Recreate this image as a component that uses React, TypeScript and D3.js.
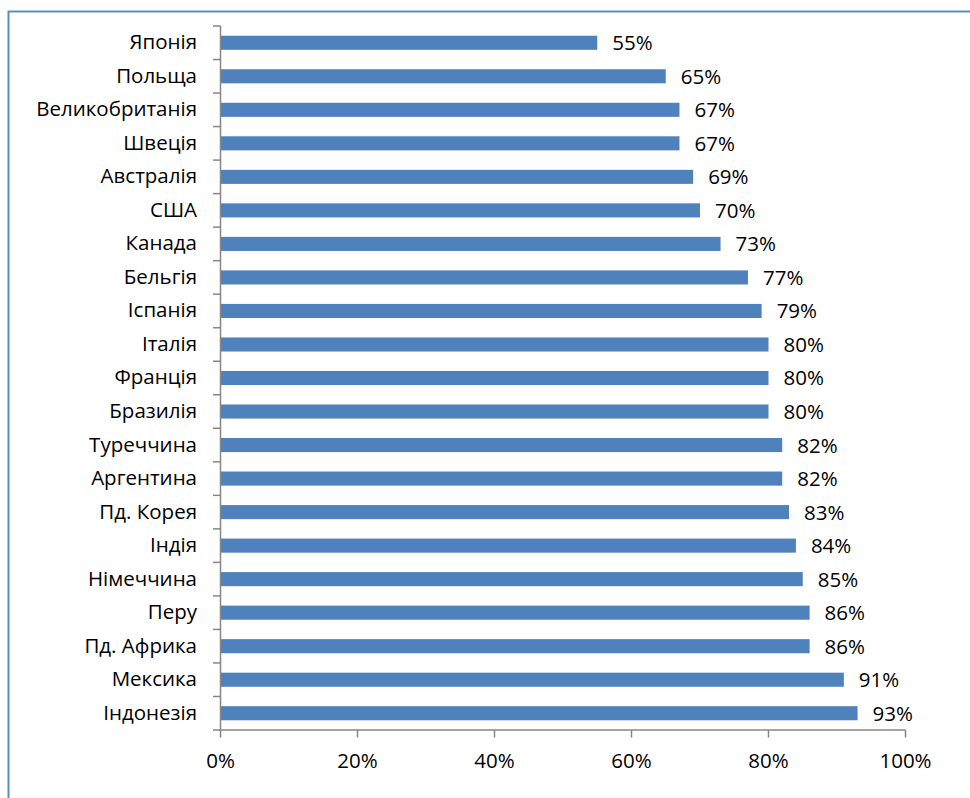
import { useEffect, useRef } from 'react'
import * as d3 from 'd3'

const countries = [
  'Японія', 'Польща', 'Великобританія', 'Швеція', 'Австралія', 'США', 'Канада',
  'Бельгія', 'Іспанія', 'Італія', 'Франція', 'Бразилія', 'Туреччина', 'Аргентина',
  'Пд. Корея', 'Індія', 'Німеччина', 'Перу', 'Пд. Африка', 'Мексика', 'Індонезія',
]
const values = [55, 65, 67, 67, 69, 70, 73, 77, 79, 80, 80, 80, 82, 82, 83, 84, 85, 86, 86, 91, 93]
const xTicks = [0, 20, 40, 60, 80, 100]

const W = 970
const H = 798
const FONT = '"Open Sans", "Noto Sans", sans-serif'
const FS = '20.5px'

export default function App() {
  const ref = useRef<SVGSVGElement | null>(null)

  useEffect(() => {
    const svg = d3.select(ref.current)
    svg.selectAll('*').remove()

    // chart frame, runs past the right and bottom edges
    svg.append('rect')
      .attr('x', 8.5).attr('y', 11.5)
      .attr('width', W + 20).attr('height', H + 20)
      .attr('fill', '#fff')
      .attr('stroke', '#5b8bc6').attr('stroke-width', 2)

    const left = 220.5
    const right = 905.5
    const top = 26
    const bottom = 730

    const x = d3.scaleLinear().domain([0, 100]).range([left, right])
    const y = d3.scaleBand<string>().domain(countries).range([top, bottom]).paddingInner(0.58).paddingOuter(0.29)
    const band = d3.scaleBand<string>().domain(countries).range([top, bottom])

    const axisColor = '#868686'
    const g = svg.append('g')

    g.selectAll('rect.bar')
      .data(countries)
      .enter()
      .append('rect')
      .attr('class', 'bar')
      .attr('x', x(0))
      .attr('y', (d) => y(d)!)
      .attr('width', (_d, i) => x(values[i]) - x(0))
      .attr('height', y.bandwidth())
      .attr('fill', '#4f81bd')

    // value labels
    g.selectAll('text.val')
      .data(countries)
      .enter()
      .append('text')
      .attr('class', 'val')
      .attr('x', (_d, i) => x(values[i]) + 15)
      .attr('y', (d) => y(d)! + y.bandwidth() / 2 + 2)
      .attr('dominant-baseline', 'middle')
      .style('font-family', FONT)
      .style('font-size', FS)
      .attr('fill', '#000')
      .text((_d, i) => `${values[i]}%`)

    // category labels
    g.selectAll('text.cat')
      .data(countries)
      .enter()
      .append('text')
      .attr('class', 'cat')
      .attr('x', 197)
      .attr('y', (d) => band(d)! + band.bandwidth() / 2 + 1)
      .attr('text-anchor', 'end')
      .attr('dominant-baseline', 'middle')
      .style('font-family', FONT)
      .style('font-size', FS)
      .attr('fill', '#000')
      .text((d) => d)

    // left axis with ticks at band boundaries
    g.append('line')
      .attr('x1', left).attr('x2', left).attr('y1', top).attr('y2', bottom)
      .attr('stroke', axisColor).attr('stroke-width', 1.5)
    const bounds = countries.map((d) => band(d)!).concat([bottom])
    g.selectAll('line.ytick')
      .data(bounds)
      .enter()
      .append('line')
      .attr('class', 'ytick')
      .attr('x1', left - 7.5).attr('x2', left)
      .attr('y1', (d) => d).attr('y2', (d) => d)
      .attr('stroke', axisColor).attr('stroke-width', 1.5)

    // bottom axis
    g.append('line')
      .attr('x1', left).attr('x2', right).attr('y1', bottom).attr('y2', bottom)
      .attr('stroke', axisColor).attr('stroke-width', 1.5)
    g.selectAll('line.xtick')
      .data(xTicks)
      .enter()
      .append('line')
      .attr('class', 'xtick')
      .attr('x1', (d) => x(d)).attr('x2', (d) => x(d))
      .attr('y1', bottom).attr('y2', bottom + 7.5)
      .attr('stroke', axisColor).attr('stroke-width', 1.5)
    g.selectAll('text.xlab')
      .data(xTicks)
      .enter()
      .append('text')
      .attr('class', 'xlab')
      .attr('x', (d) => x(d))
      .attr('y', 763)
      .attr('text-anchor', 'middle')
      .attr('dominant-baseline', 'middle')
      .style('font-family', FONT)
      .style('font-size', FS)
      .attr('fill', '#000')
      .text((d) => `${d}%`)
  }, [])

  return (
    <div style={{ position: 'fixed', left: 0, top: 0 }}>
      <svg ref={ref} width={W} height={H} style={{ display: 'block' }} />
    </div>
  )
}
